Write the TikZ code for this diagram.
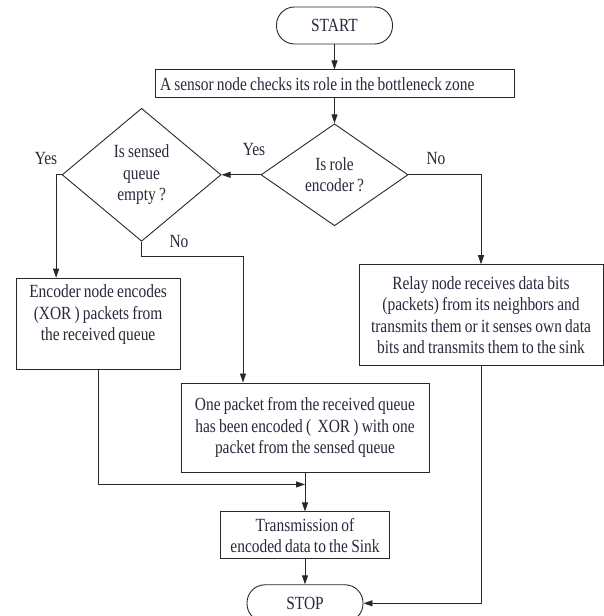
\documentclass[tikz,border=0pt]{standalone}
\usepackage{fontspec}
\setmainfont{Liberation Serif}[FakeStretch=0.83,WordSpace=0.83]
\usetikzlibrary{positioning,arrows.meta,shapes.geometric}
\definecolor{ink}{RGB}{38,42,58}
\definecolor{wire}{RGB}{40,40,40}

\begin{document}
\begin{tikzpicture}[x=1pt,y=1pt,font=\fontsize{18.6}{21.6}\selectfont,color=wire,text=ink,
  >={Triangle[length=9pt,width=6pt]},line width=0.9pt,
  term/.style={draw,rounded corners=18pt,minimum width=116pt,minimum height=37pt},
  proc/.style={draw,align=center,inner sep=4pt},
  decide/.style={draw,diamond,align=center,inner sep=0pt},
  lbl/.style={inner sep=1pt}]
  \useasboundingbox (0,0) rectangle (603,616);
  \node[term] (start) at (334.5,590.5) {START};
  \node[proc,below=25pt of start,text width=349pt,inner xsep=5pt,align=flush left,minimum height=28pt] (check) {A sensor node checks its role in the bottleneck zone};
  \node[decide,below=25pt of check,minimum width=147pt,minimum height=102pt] (role) {Is role\\encoder ?};
  \node[decide,left=39pt of role,minimum width=159pt,minimum height=133pt] (sensed) {Is sensed\\queue\\empty ?};
  \node[proc,below=36pt of sensed,xshift=-43.5pt,minimum width=164pt,minimum height=91pt] (encoder) {Encoder node encodes\\(XOR\,) packets from\\the received queue\\ \mbox{}};
  \node[proc,below=38pt of role,xshift=146.5pt,minimum width=244pt,minimum height=101pt] (relay) {Relay node receives data bits\\(packets) from its neighbors and\\transmits them or it senses own data\\bits and transmits them to the sink};
  \node[proc,minimum width=248pt,minimum height=89pt] (encoded) at (305,188.5) {One packet from the received queue\\has been encoded (~~XOR~) with one\\packet from the sensed queue};
  \node[proc,below=39pt of encoded,minimum width=169pt,minimum height=47pt] (send) {Transmission of\\encoded data to the Sink};
  \node[term,below=25pt of send] (stop) {STOP};
  \coordinate (join) at ([yshift=-12pt]encoded.south);
  % branch labels
  \node[lbl] (yesr) at (254,466) {Yes};
  \node[lbl] (nor) at (436,457) {No};
  \node[lbl] (yesl) at (46,457) {Yes};
  \node[lbl] (nol) at (179,374) {No};
  \draw[->] (start)--(check); \draw[->] (check)--(role);
  \draw[->] (role.west)--(sensed.east); \draw[->] (role.east)-|(relay.north);
  \draw[->] (sensed.west)-|([xshift=-42pt]encoder.north);
  \draw[->] (sensed.south)--++(0,-15pt)-|([xshift=-62pt]encoded.north);
  \draw[->] (encoder.south)|-(join);
  \draw[->] (encoded.south)--(send.north); \draw[->] (send)--(stop);
  \draw[->] (relay.south)|-(stop.east);
\end{tikzpicture}
\end{document}
